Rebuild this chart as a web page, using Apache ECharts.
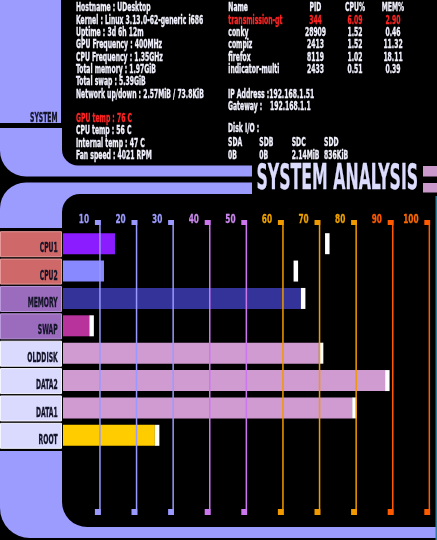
<!DOCTYPE html>
<html><head><meta charset="utf-8">
<script src="https://cdn.jsdelivr.net/npm/echarts@6/dist/echarts.min.js"></script>
<style>html,body{margin:0;padding:0;background:#000}#c{width:437px;height:540px}</style>
</head><body><div id="c"></div>
<script>
// ---------- data ----------
const categories = ['CPU1','CPU2','MEMORY','SWAP','OLDDISK','DATA2','DATA1','ROOT'];
const usageValues = [14.2, 11.2, 65.0, 7.2, 69.9, 88.0, 79.0, 25.1];
const peakValues  = [71.6, 63.0, 65.0, 7.2, 69.9, 88.0, 79.0, 25.1];
const barColors   = ['#8a1cff','#8888ff','#333399','#b8339c','#cf9bd0','#cf9bd0','#cf9bd0','#ffcc00'];
const labelFills  = ['#cf6868','#cf6868','#9b6bbd','#9b6bbd','#dadaff','#dadaff','#dadaff','#dadaff'];
const labelBorders= ['#e89a9a','#e89a9a','#bb99dd','#bb99dd','#f4f4ff','#f4f4ff','#f4f4ff','#f4f4ff'];
const tickValues  = [10,20,30,40,50,60,70,80,90,100];
const tickLineColors  = ['#9999ff','#9999ff','#9999ff','#cc77ee','#cc77ee','#f09a00','#f09a00','#f09a00','#ff5a00','#ff5a00'];
const tickLabelColors = ['#9c9cff','#9c9cff','#9c9cff','#cc88ee','#cc88ee','#eea200','#eea200','#eea200','#ff5a00','#ff6a00'];

const sysInfoLines = ['Hostname : UDesktop','Kernel : Linux 3.13.0-62-generic i686','Uptime : 3d 6h 12m',
  'GPU Frequency : 400MHz','CPU Frequency : 1.35GHz','Total memory : 1.97GiB','Total swap : 5.39GiB',
  'Network up/down : 2.57MiB / 73.8KiB'];
const tempLines = ['GPU temp : 76 C','CPU temp : 56 C','Internal temp : 47 C','Fan speed : 4021 RPM'];
const procHeader = ['Name','PID','CPU%','MEM%'];
const procNames = ['transmission-gt','conky','compiz','firefox','indicator-multi'];
const procPid   = ['344','28909','2413','8119','2433'];
const procCpu   = ['6.09','1.52','1.52','1.02','0.51'];
const procMem   = ['2.90','0.46','11.32','18.11','0.39'];
const ipAddress = '192.168.1.51';
const gateway = '192.168.1.1';
const diskNames = ['SDA','SDB','SDC','SDD'];
const diskIO = ['0B','0B','2.14MiB','836KiB'];
const titleText = 'SYSTEM ANALYSIS';
const panelLabel = 'SYSTEM';

// ---------- fonts / fitting ----------
const FAM = '"Liberation Sans Narrow","DejaVu Sans Condensed","Liberation Sans",sans-serif';
const ctx = document.createElement('canvas').getContext('2d');
function mw(t, f){ ctx.font = f; return ctx.measureText(t).width; }
function fit(pairs, f){ let a=0,b=0; pairs.forEach(p=>{a+=p[1]; b+=mw(p[0],f);}); return a/b; }
const infoFont = 'bold 11.5px ' + FAM;
const infoScale = fit([[sysInfoLines[0],69],[sysInfoLines[1],130],[sysInfoLines[7],130.7],[tempLines[3],75.7],[sysInfoLines[5],80]], infoFont);
const titleFont = 'bold 35px ' + FAM;
const titleScale = fit([[titleText,161.6]], titleFont);
const catFont = 'bold 14px ' + FAM;
const catScale = fit([['MEMORY',31],['OLDDISK',29.4]], catFont);
const tickFont = 'bold 13px ' + FAM;
const tickScale = fit([['100',15.6],['10',10]], tickFont);

function txt(t, x, y, fill, align, font, sc, z){
  return {type:'text', x:x, y:y, scaleX:sc, z:z||10, silent:true,
    style:{text:t, font:font, fill:fill, stroke:fill, lineWidth:0.35, align:align||'left', verticalAlign:'middle'}};
}

// ---------- frame & info graphics ----------
const LAV = '#9c9cff';
const g = [];
g.push({type:'rect', z:0, shape:{x:0,y:0,width:61,height:123}, style:{fill:LAV}});
g.push({type:'rect', z:0, shape:{x:0,y:128,width:252,height:48.5,r:[0,0,0,26]}, style:{fill:LAV}});
g.push({type:'rect', z:1, shape:{x:62,y:110,width:200,height:55.5,r:[0,0,0,16]}, style:{fill:'#000'}});
g.push({type:'rect', z:0, shape:{x:0,y:182.5,width:252,height:45.5,r:[26,0,0,0]}, style:{fill:LAV}});
g.push({type:'rect', z:1, shape:{x:62,y:194,width:200,height:50,r:[18,0,0,0]}, style:{fill:'#000'}});
g.push({type:'rect', z:0, shape:{x:423,y:166,width:14,height:10.5}, style:{fill:'#cc99cc'}});
g.push({type:'rect', z:0, shape:{x:423,y:183,width:14,height:9.5}, style:{fill:'#cc99cc'}});
g.push({type:'rect', z:0, shape:{x:0,y:451,width:436,height:87,r:[0,0,0,30]}, style:{fill:LAV}});
g.push({type:'rect', z:1, shape:{x:62,y:430,width:380,height:97,r:[0,0,0,25]}, style:{fill:'#000'}});
g.push({type:'rect', z:1, shape:{x:435.5,y:196,width:1.5,height:344}, style:{fill:'#2a7f9f'}});

g.push(txt(panelLabel, 57.5, 118, '#141428', 'right', catFont, catScale));
g.push(txt(titleText, 256.5, 180, '#dcdcff', 'left', titleFont, titleScale));

const WHITE = '#f2f2ff', RED = '#ff2424';
sysInfoLines.forEach((t,i)=>g.push(txt(t, 76, 8.5 + 12.3*i, WHITE, 'left', infoFont, infoScale)));
tempLines.forEach((t,i)=>g.push(txt(t, 76, 119.2 + 12.3*i, i===0?RED:WHITE, 'left', infoFont, infoScale)));

const colX = [228.3, 315.5, 355, 393];
procHeader.forEach((t,i)=>g.push(txt(t, colX[i], 8.5, WHITE, i===0?'left':'center', infoFont, infoScale)));
procNames.forEach((n,i)=>{
  const y = 20.8 + 12.3*i, c = i===0?RED:WHITE;
  g.push(txt(n, colX[0], y, c, 'left', infoFont, infoScale));
  g.push(txt(procPid[i], colX[1], y, c, 'center', infoFont, infoScale));
  g.push(txt(procCpu[i], colX[2], y, c, 'center', infoFont, infoScale));
  g.push(txt(procMem[i], colX[3], y, c, 'center', infoFont, infoScale));
});
g.push(txt('IP Address :' + ipAddress, 228, 94.6, WHITE, 'left', infoFont, infoScale));
g.push(txt('Gateway :', 228, 107, WHITE, 'left', infoFont, infoScale));
g.push(txt(gateway, 270, 107, WHITE, 'left', infoFont, infoScale));
g.push(txt('Disk I/O :', 228, 129.5, WHITE, 'left', infoFont, infoScale));
const diskX = [228, 259.3, 291.7, 324];
diskNames.forEach((d,i)=>{
  g.push(txt(d, diskX[i], 143.5, WHITE, 'left', infoFont, infoScale));
  g.push(txt(diskIO[i], diskX[i], 156, WHITE, 'left', infoFont, infoScale));
});

// ---------- chart ----------
const chart = echarts.init(document.getElementById('c'));
chart.setOption({
  backgroundColor: '#000',
  animation: false,
  graphic: {elements: g},
  grid: [
    {left:63, right:8, top:230, bottom:91},
    {left:63, right:8, top:220, bottom:25}
  ],
  xAxis: [
    {gridIndex:0, type:'value', min:0, max:100, show:false},
    {gridIndex:1, type:'value', min:0, max:100, show:false}
  ],
  yAxis: [
    {gridIndex:0, type:'category', data:categories, inverse:true, show:false},
    {gridIndex:1, type:'value', min:0, max:1, show:false}
  ],
  series: [
    {type:'bar', xAxisIndex:0, yAxisIndex:0, barWidth:21, z:2,
     data: usageValues.map((v,i)=>({value:v, itemStyle:{color:barColors[i]}}))},
    {type:'custom', xAxisIndex:0, yAxisIndex:0, z:3,
     data: peakValues.map((v,i)=>[v,i]),
     renderItem:(params, api)=>{
       const p = api.coord([api.value(0), api.value(1)]);
       return {type:'rect', shape:{x:p[0], y:p[1]-10.5, width:4.5, height:21}, style:{fill:'#ffffff'}};
     }},
    {type:'custom', xAxisIndex:0, yAxisIndex:0, z:3, clip:false,
     data: categories.map((c,i)=>[0,i]),
     renderItem:(params, api)=>{
       const i = params.dataIndex;
       const y = api.coord([0, api.value(1)])[1];
       return {type:'group', children:[
         {type:'rect', shape:{x:0.5, y:y-12, width:61, height:25}, style:{fill:labelFills[i], stroke:labelBorders[i], lineWidth:1}},
         {type:'text', x:57.7, y:y+5, scaleX:catScale, style:{text:categories[i], font:catFont, fill:'#141428', stroke:'#141428', lineWidth:0.35, align:'right', verticalAlign:'middle'}}
       ]};
     }},
    {type:'custom', xAxisIndex:1, yAxisIndex:1, z:4, clip:false,
     data: tickValues.map(v=>[v,0]),
     renderItem:(params, api)=>{
       const i = params.dataIndex;
       const v = api.value(0);
       const top = api.coord([v,1]), bot = api.coord([v,0]);
       const x = top[0], c = tickLineColors[i];
       return {type:'group', children:[
         {type:'rect', shape:{x:x-4.7, y:top[1], width:5.8, height:5}, style:{fill:c}},
         {type:'rect', shape:{x:x-0.4, y:top[1], width:1.5, height:bot[1]-top[1]}, style:{fill:c}},
         {type:'rect', shape:{x:x-4.7, y:bot[1]-6, width:5.8, height:6}, style:{fill:c}},
         {type:'text', x:x-10.5, y:top[1]-0.5, scaleX:tickScale, style:{text:String(v), font:tickFont, fill:tickLabelColors[i], stroke:tickLabelColors[i], lineWidth:0.3, align:'right', verticalAlign:'middle'}}
       ]};
     }}
  ]
});
</script></body></html>
